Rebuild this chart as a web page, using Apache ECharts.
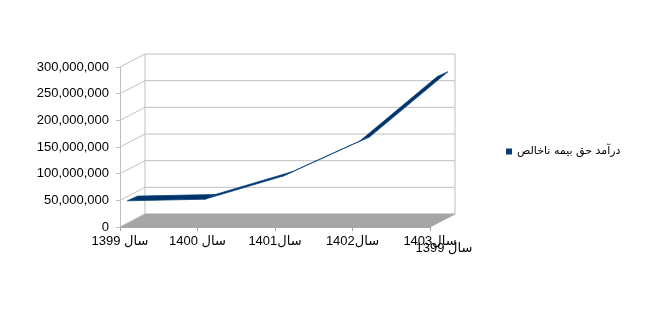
<!DOCTYPE html>
<html>
<head>
<meta charset="utf-8">
<script src="https://cdn.jsdelivr.net/npm/echarts@6/dist/echarts.min.js"></script>
<style>html,body{margin:0;padding:0;background:#fff}#c{width:645px;height:310px}</style>
</head>
<body>
<div id="c"></div>
<script>
const categories = ['1399 سال', '1400 سال', '1401سال', '1402سال', '1403سال'];
const seriesName = 'درآمد حق بیمه ناخالص';
const values = [42000000, 45000000, 88000000, 154000000, 275000000];
const yTicks = [0, 50000000, 100000000, 150000000, 200000000, 250000000, 300000000];
const strayLabel = '1399 سال';

const DX = 25, DY = -13;            // frame depth projection
const RF = [7.3, -3.8];             // ribbon front edge offset
const RB = [17.8, -8.5];            // ribbon back edge offset
const FONT = "'Liberation Sans', 'DejaVu Sans', sans-serif";
const GRID_C = '#c0c0c0';

const chart = echarts.init(document.getElementById('c'));
const last = categories.length - 1;
const yMax = yTicks[yTicks.length - 1];

chart.setOption({
  animation: false,
  grid: { left: 120, right: 215, top: 67, bottom: 83 },
  legend: {
    left: 501, top: 141, orient: 'vertical',
    icon: 'rect', itemWidth: 6, itemHeight: 6, itemGap: 4,
    textStyle: { fontSize: 11, color: '#000', fontFamily: "'DejaVu Sans', sans-serif" },
    data: [seriesName]
  },
  xAxis: {
    type: 'category', data: categories, boundaryGap: false, z: 5,
    axisLine: { show: true, lineStyle: { color: '#a6a6a6' } },
    axisTick: { show: true, length: 4, lineStyle: { color: '#a6a6a6' } },
    axisLabel: { fontSize: 13, color: '#000', fontFamily: FONT, margin: 8, interval: 0 },
    splitLine: { show: false }
  },
  yAxis: {
    type: 'value', min: 0, max: yMax, interval: 50000000, z: 5,
    axisLine: { show: true, lineStyle: { color: '#bfbfbf' } },
    axisTick: { show: true, length: 4, lineStyle: { color: '#bfbfbf' } },
    axisLabel: { fontSize: 13, color: '#000', fontFamily: FONT, margin: 11 },
    splitLine: { show: false }
  },
  graphic: [{
    type: 'text', x: 444, y: 248,
    style: { text: strayLabel, fill: '#000', font: '13px ' + FONT, textAlign: 'center', textVerticalAlign: 'middle' }
  }],
  series: [
    {
      type: 'custom', name: 'frame', z: 1, silent: true,
      data: yTicks.map(v => [0, v]),
      renderItem: function (params, api) {
        const v = yTicks[params.dataIndex];
        const fl = api.coord([0, v]);
        const fr = api.coord([last, v]);
        const children = [];
        if (params.dataIndex === 0) {
          const tl = api.coord([0, yMax]);
          const tr = api.coord([last, yMax]);
          children.push({
            type: 'polygon',
            shape: { points: [fl, fr, [fr[0] + DX, fr[1] + DY], [fl[0] + DX, fl[1] + DY]] },
            style: { fill: '#a5a5a5', stroke: '#a5a5a5', lineWidth: 1 }
          });
          children.push({ type: 'line', shape: { x1: fl[0] + DX, y1: fl[1] + DY, x2: tl[0] + DX, y2: tl[1] + DY }, style: { stroke: GRID_C, lineWidth: 1 } });
          children.push({ type: 'line', shape: { x1: fr[0] + DX, y1: fr[1] + DY, x2: tr[0] + DX, y2: tr[1] + DY }, style: { stroke: GRID_C, lineWidth: 1 } });
        } else {
          children.push({ type: 'line', shape: { x1: fl[0] + DX, y1: fl[1] + DY, x2: fr[0] + DX, y2: fr[1] + DY }, style: { stroke: GRID_C, lineWidth: 1 } });
        }
        children.push({ type: 'line', shape: { x1: fl[0], y1: fl[1], x2: fl[0] + DX, y2: fl[1] + DY }, style: { stroke: GRID_C, lineWidth: 1 } });
        return { type: 'group', children: children };
      }
    },
    {
      type: 'custom', name: seriesName, z: 3,
      itemStyle: { color: '#0a3d7a' },
      data: values.map((v, i) => [i, v]),
      renderItem: function (params, api) {
        const i = params.dataIndex;
        if (i >= values.length - 1) return null;
        const p = api.coord([i, values[i]]);
        const q = api.coord([i + 1, values[i + 1]]);
        const pts = [
          [p[0] + RF[0], p[1] + RF[1]],
          [q[0] + RF[0], q[1] + RF[1]],
          [q[0] + RB[0], q[1] + RB[1]],
          [p[0] + RB[0], p[1] + RB[1]]
        ];
        return {
          type: 'polygon', shape: { points: pts },
          style: { fill: '#003366', stroke: '#0b4683', lineWidth: 0.8 }
        };
      }
    }
  ]
});
</script>
</body>
</html>
